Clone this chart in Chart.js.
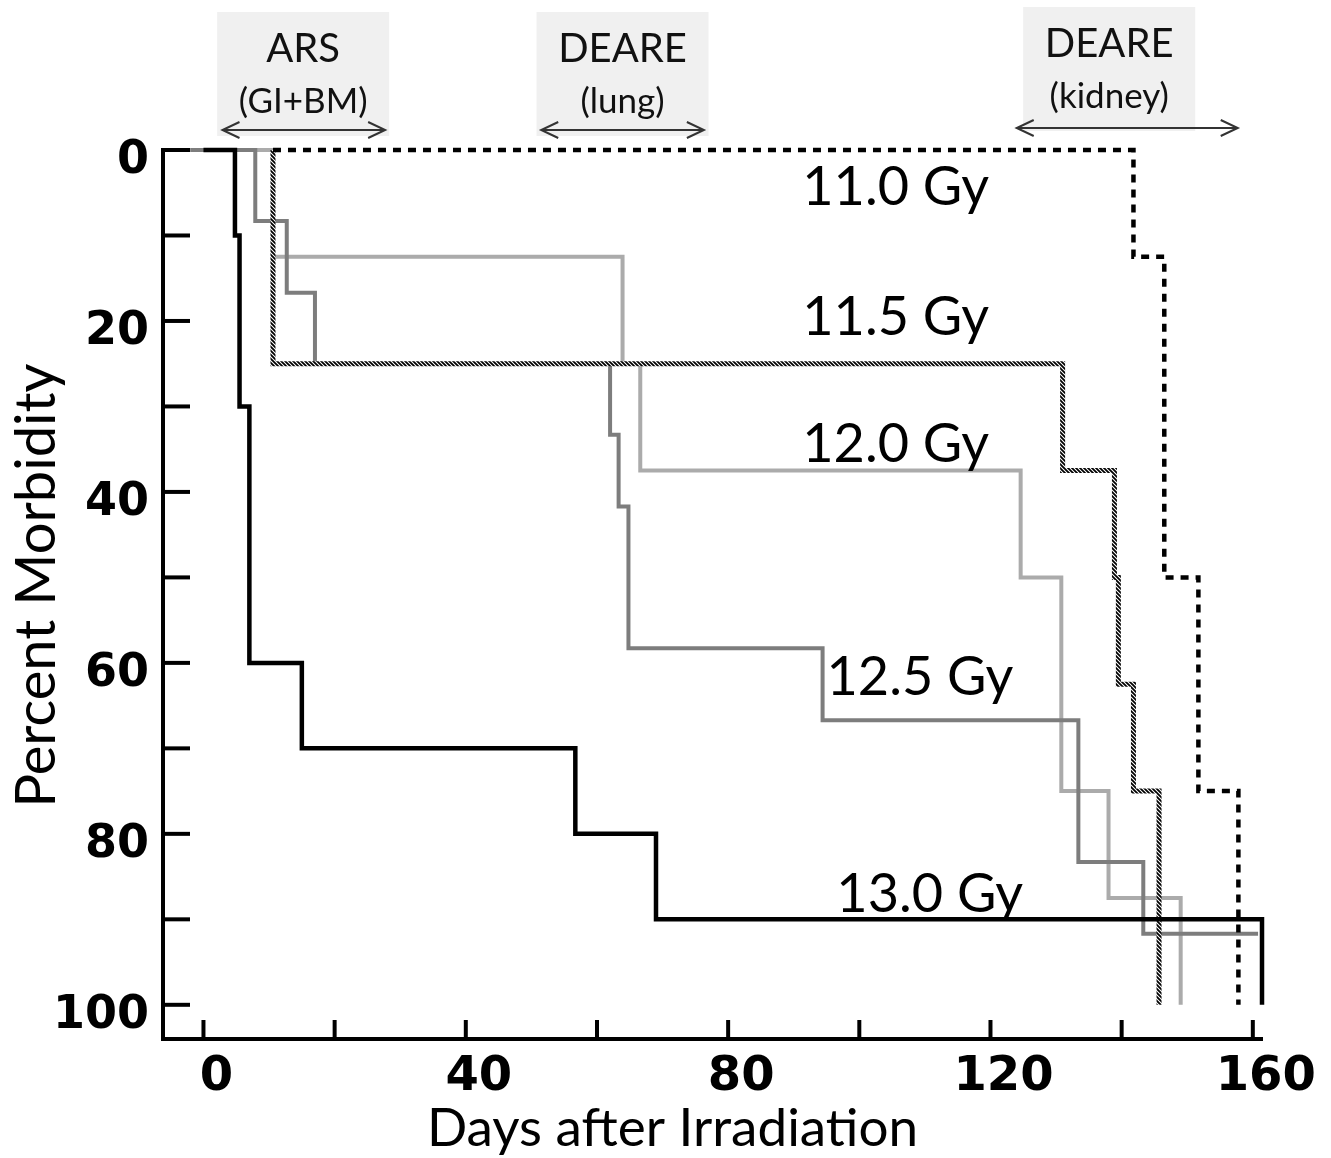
<!DOCTYPE html>
<html>
<head>
<meta charset="utf-8">
<script src="https://cdn.jsdelivr.net/npm/chart.js@4/dist/chart.umd.min.js"></script>
<style>
html,body{margin:0;padding:0;background:#fff}
#wrap{width:1331px;height:1158px;position:relative}
</style>
</head>
<body>
<div id="wrap"><canvas id="c"></canvas></div>
<script>
// ---- data ----
const doseNames = ['13.0 Gy', '12.5 Gy', '12.0 Gy', '11.5 Gy', '11.0 Gy'];

const days130 = [0, 4.8, 5.5, 7, 15, 56.7, 69, 161.4];
const morb130 = [0, 10, 30, 60, 70, 80, 90, 100];

const days125 = [-2, 7.9, 12.7, 17, 62, 63.3, 64.8, 94.4, 133.4, 143.3, 160.8];
const morb125 = [0, 8.3, 16.7, 25, 33.3, 41.7, 58.3, 66.7, 83.3, 91.7, 91.7];

const days120 = [-2, 10.6, 63.9, 66.6, 124.6, 130.8, 138, 149];
const morb120 = [0, 12.5, 25, 37.5, 50, 75, 87.5, 100];

const days115 = [10.6, 10.6, 131, 138.9, 139.5, 141.8, 145.7];
const morb115 = [0, 25, 37.5, 50, 62.5, 75, 100];

const days110 = [10.6, 141.8, 146.5, 151.7, 157.8];
const morb110 = [0, 12.5, 50, 75, 100];

// dose label anchor (days, % baseline)
const doseLabelDay = [96.5, 95.0, 91.3, 91.3, 91.3];
const doseLabelPct = [89.1, 63.7, 36.5, 21.6, 6.4];

// axis ticks
const xTickValues = [0, 20, 40, 60, 80, 100, 120, 140, 160];
const yTickValues = [0, 10, 20, 30, 40, 50, 60, 70, 80, 90, 100];

// phase annotations
const phaseTitle = ['ARS', 'DEARE', 'DEARE'];
const phaseSub = ['(GI+BM)', '(lung)', '(kidney)'];
const phaseFrom = [2.9, 51.5, 124.0];
const phaseTo = [27.7, 76.3, 157.7];
const phaseCenter = [15.2, 63.9, 138.1];

// ---- styles ----
function hatchPattern() {
  const c = document.createElement('canvas');
  c.width = 4; c.height = 4;
  const g = c.getContext('2d');
  g.fillStyle = '#fff'; g.fillRect(0, 0, 4, 4);
  g.strokeStyle = '#000'; g.lineWidth = 1.8;
  g.beginPath();
  g.moveTo(0, 0); g.lineTo(4, 4);
  g.moveTo(3, -1); g.lineTo(5, 1);
  g.moveTo(-1, 3); g.lineTo(1, 5);
  g.stroke();
  return g.createPattern(c, 'repeat');
}

function series(label, xs, ys, color, width, extra) {
  return Object.assign({
    label: label,
    data: xs.map((x, i) => ({ x: x, y: ys[i] })),
    borderColor: color,
    borderWidth: width,
    stepped: true,
    showLine: true,
    pointRadius: 0,
    fill: false,
    clip: false
  }, extra || {});
}

const datasets = [
  series(doseNames[0], days130, morb130, '#000000', 4.5),
  series(doseNames[4], days110, morb110, '#000000', 4.5, { borderDash: [8, 7] }),
  series(doseNames[3], days115, morb115, hatchPattern(), 5),
  series(doseNames[1], days125, morb125, '#7d7d7d', 4),
  series(doseNames[2], days120, morb120, '#ababab', 4)
];

const deco = {
  id: 'deco',
  afterDraw(chart) {
    const { ctx, scales: { x, y }, chartArea: a } = chart;
    ctx.save();
    // inward tick marks
    ctx.strokeStyle = '#000';
    ctx.lineWidth = 4;
    xTickValues.forEach(v => {
      const px = x.getPixelForValue(v);
      ctx.beginPath(); ctx.moveTo(px, a.bottom); ctx.lineTo(px, a.bottom - 19); ctx.stroke();
    });
    yTickValues.forEach(v => {
      const py = y.getPixelForValue(v);
      ctx.beginPath(); ctx.moveTo(a.left, py); ctx.lineTo(a.left + 27, py); ctx.stroke();
    });

    // dose labels
    ctx.fillStyle = '#000';
    ctx.font = '54px Lato';
    ctx.textAlign = 'left';
    ctx.textBaseline = 'alphabetic';
    doseNames.forEach((n, i) => {
      ctx.fillText(n, x.getPixelForValue(doseLabelDay[i]), y.getPixelForValue(doseLabelPct[i]));
    });

    // phase boxes / arrows
    const lift = [0, 0, 5];
    phaseTitle.forEach((t, i) => {
      const cx = x.getPixelForValue(phaseCenter[i]);
      const top = a.top - 138 - lift[i];
      ctx.fillStyle = '#f0f0f0';
      ctx.fillRect(cx - 86, top, 172, 124);
      ctx.fillStyle = '#111';
      ctx.textAlign = 'center';
      ctx.font = '40px Lato';
      ctx.fillText(t, cx, top + 50);
      ctx.font = '35px Lato';
      ctx.fillText(phaseSub[i], cx, top + 101);
      // arrow
      const x1 = x.getPixelForValue(phaseFrom[i]);
      const x2 = x.getPixelForValue(phaseTo[i]);
      const ay = a.top - 20 - lift[i] + (i === 2 ? 3 : 0);
      ctx.strokeStyle = '#333';
      ctx.lineWidth = 2;
      ctx.beginPath();
      ctx.moveTo(x1, ay); ctx.lineTo(x2, ay);
      ctx.moveTo(x1 + 17, ay - 8); ctx.lineTo(x1, ay); ctx.lineTo(x1 + 17, ay + 8);
      ctx.moveTo(x2 - 17, ay - 8); ctx.lineTo(x2, ay); ctx.lineTo(x2 - 17, ay + 8);
      ctx.stroke();
    });

    // axis titles
    ctx.fillStyle = '#000';
    ctx.font = '53px Lato';
    ctx.textAlign = 'center';
    ctx.textBaseline = 'alphabetic';
    ctx.fillText('Days after Irradiation', (a.left + a.right) / 2 - 40, a.bottom + 107);
    ctx.font = '56px Lato';
    ctx.translate(55, (a.top + a.bottom) / 2 - 9);
    ctx.rotate(-Math.PI / 2);
    ctx.fillText('Percent Morbidity', 0, 0);
    ctx.restore();
  }
};

new Chart(document.getElementById('c'), {
  type: 'scatter',
  data: { datasets: datasets },
  options: {
    responsive: true,
    maintainAspectRatio: false,
    animation: false,
    layout: { padding: { top: 150, right: 69, left: 0, bottom: 0 } },
    plugins: { legend: { display: false }, tooltip: { enabled: false } },
    scales: {
      x: {
        type: 'linear',
        min: -6.17,
        max: 161.4,
        grid: { display: false, drawTicks: false },
        border: { display: true, color: '#000', width: 4 },
        afterBuildTicks: s => { s.ticks = xTickValues.map(v => ({ value: v })); },
        afterFit: s => { s.height = 119; },
        ticks: {
          callback: v => (v % 40 === 0 ? String(v) : ''),
          font: { family: 'DejaVu Sans', weight: 'bold', size: 48 },
          color: '#000',
          padding: 10,
          labelOffset: 13,
          maxRotation: 0,
          autoSkip: false
        }
      },
      y: {
        type: 'linear',
        reverse: true,
        min: 0,
        max: 104,
        grid: { display: false, drawTicks: false },
        border: { display: true, color: '#000', width: 4 },
        afterBuildTicks: s => { s.ticks = yTickValues.map(v => ({ value: v })); },
        afterFit: s => { s.width = 163; },
        ticks: {
          callback: v => (v % 20 === 0 ? String(v) : ''),
          font: { family: 'DejaVu Sans', weight: 'bold', size: 46 },
          color: '#000',
          padding: 14,
          labelOffset: 11,
          autoSkip: false
        }
      }
    }
  },
  plugins: [deco]
});
</script>
</body>
</html>
